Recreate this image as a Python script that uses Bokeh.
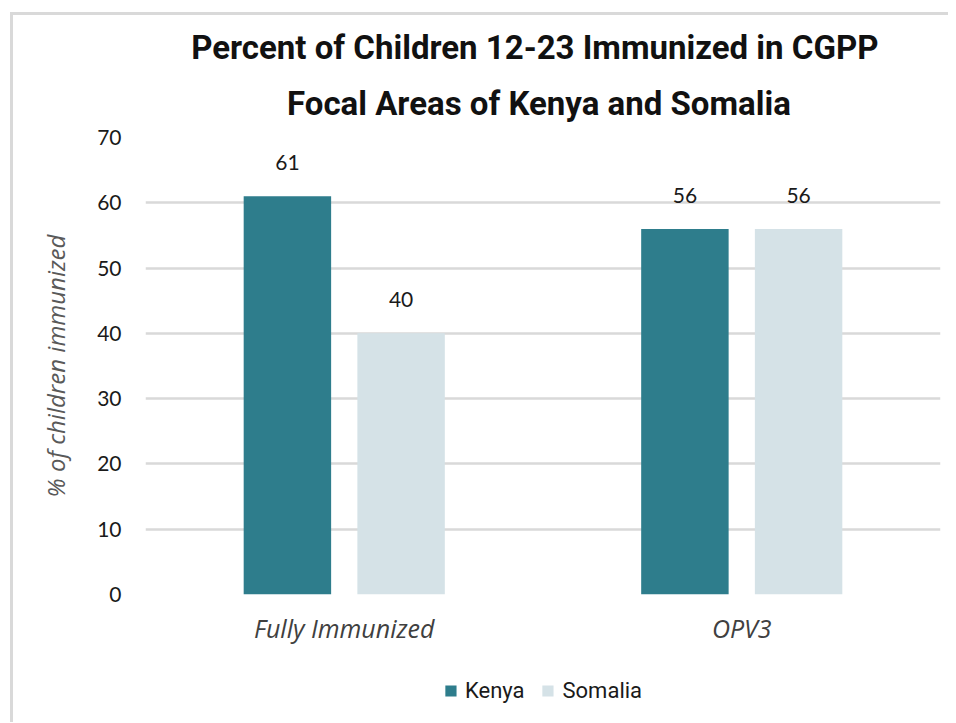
from bokeh.plotting import figure
from bokeh.layouts import column
from bokeh.models import (FactorRange, Range1d, SingleIntervalTicker, Legend,
                          LegendItem, Title, ColumnDataSource)
from bokeh.transform import dodge
from bokeh.embed import file_html
from bokeh.resources import INLINE
from bokeh.core.properties import value

categories = ["Fully Immunized", "OPV3"]
series = ["Kenya", "Somalia"]
kenya = [61, 56]
somalia = [40, 56]
title_lines = ["Percent of Children 12-23  Immunized  in CGPP",
               "Focal Areas of Kenya and  Somalia"]
y_label = "% of children immunized"

colors = {"Kenya": "#2e7d8c", "Somalia": "#d5e2e7"}

src = ColumnDataSource(dict(cat=categories, kenya=kenya, somalia=somalia,
                            kl=[str(v) for v in kenya],
                            sl=[str(v) for v in somalia]))

p = figure(x_range=FactorRange(factors=categories, range_padding=0),
           y_range=Range1d(0, 70), width=935, height=643,
           output_backend="svg", toolbar_location=None,
           min_border_left=132, min_border_right=8,
           min_border_top=122, min_border_bottom=64)
p.title = None
p.outline_line_color = None

t2 = Title(text=title_lines[1], align="center", text_font="Roboto",
           text_font_size="33px", text_font_style="bold", text_color="#111111",
           standoff=30)
t1 = Title(text=title_lines[0], align="center", text_font="Roboto",
           text_font_size="33px", text_font_style="bold", text_color="#111111",
           standoff=0)
p.add_layout(t2, "above")
p.add_layout(t1, "above")

off = 0.143
bw = 0.22
rk = p.vbar(x=dodge("cat", -off, range=p.x_range), top="kenya", width=bw,
            source=src, fill_color=colors["Kenya"], line_color=None)
rs = p.vbar(x=dodge("cat", off, range=p.x_range), top="somalia", width=bw,
            source=src, fill_color=colors["Somalia"], line_color=None)

for col, lab, o in [("kenya", "kl", -off), ("somalia", "sl", off)]:
    p.text(x=dodge("cat", o, range=p.x_range), y=col, text=lab, source=src,
           text_align="center", text_baseline="bottom", y_offset=-26,
           text_font=value("Lato"), text_font_size="21px", text_color="#1a1a1a")

p.xgrid.visible = False
p.ygrid.grid_line_color = "#d9d9d9"
p.ygrid.grid_line_width = 2.5

p.yaxis.ticker = SingleIntervalTicker(interval=10)
for ax in (p.xaxis[0], p.yaxis[0]):
    ax.axis_line_color = None
    ax.major_tick_line_color = None
    ax.minor_tick_line_color = None

p.yaxis.major_label_text_font = "Lato"
p.yaxis.major_label_text_font_size = "21px"
p.yaxis.major_label_text_color = "#1a1a1a"
p.yaxis.major_label_standoff = 18
p.yaxis.axis_label = y_label
p.yaxis.axis_label_text_font = "Open Sans"
p.yaxis.axis_label_text_font_style = "italic"
p.yaxis.axis_label_text_font_size = "24px"
p.yaxis.axis_label_text_color = "#595959"
p.yaxis.axis_label_standoff = 22

p.xaxis.major_label_text_font = "Open Sans"
p.xaxis.major_label_text_font_style = "italic"
p.xaxis.major_label_text_font_size = "25px"
p.xaxis.major_label_text_color = "#404040"
p.xaxis.major_label_standoff = 10

# legend strip below the chart
pl = figure(width=935, height=64, x_range=Range1d(0, 1), y_range=Range1d(0, 1),
            x_axis_type=None, y_axis_type=None, output_backend="svg",
            toolbar_location=None, min_border_left=132, min_border_right=8,
            min_border_top=0, min_border_bottom=0)
pl.outline_line_color = None
lk = pl.vbar(x=[0.5], top=[0], width=0.01, fill_color=colors["Kenya"],
             line_color=None)
ls = pl.vbar(x=[0.5], top=[0], width=0.01, fill_color=colors["Somalia"],
             line_color=None)
legend = Legend(items=[LegendItem(label=series[0], renderers=[lk]),
                       LegendItem(label=series[1], renderers=[ls])],
                orientation="horizontal", location="center",
                label_text_font="Roboto", label_text_font_size="22px",
                label_text_color="#1a1a1a", glyph_width=14, glyph_height=14,
                label_standoff=8, spacing=16, border_line_color=None,
                background_fill_alpha=0)
pl.add_layout(legend, "center")

layout = column(p, pl, spacing=0)
layout.styles = {"border-top": "3px solid #d9d9d9",
                 "border-left": "3px solid #d9d9d9",
                 "margin-left": "10px", "margin-top": "12px"}
open("out.html", "w").write(file_html(layout, INLINE))
